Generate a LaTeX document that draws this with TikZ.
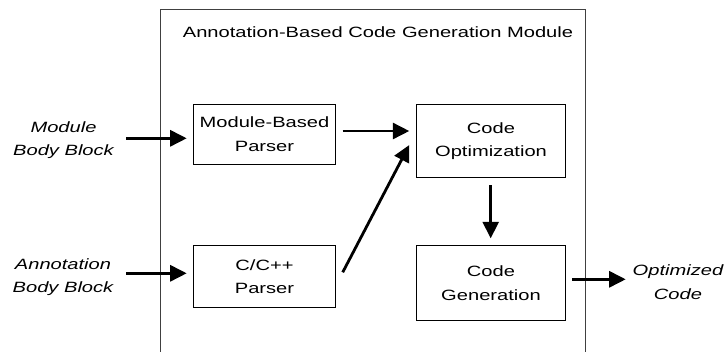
\documentclass[tikz,border=0pt]{standalone}
\usepackage{fontspec}
\setmainfont{Liberation Sans}[FakeStretch=1.35]
\usetikzlibrary{arrows.meta}
\tikzset{
  blockbox/.style={draw=black, line width=0.9pt, align=center, inner sep=0pt, font=\fontsize{14.9}{23.5}\selectfont},
  lbl/.style={align=center, inner sep=0pt, font=\fontsize{14.9}{23.5}\selectfont\itshape},
  arr/.style={line width=2.8pt, -{Triangle[length=16.5pt,width=16pt]}},
  framel/.style={draw=black!75, line width=1pt}
}
\begin{document}
\begin{tikzpicture}[x=1pt,y=-1pt]
\useasboundingbox (0,0) rectangle (725,351);
% frame (open at bottom)
\coordinate (fbl) at (160,352);
\coordinate (ftl) at (160,9.3);
\coordinate (ftr) at (585.5,9.3);
\coordinate (fbr) at (585.5,352);
\draw[framel] (fbl) -- (ftl) -- (ftr) -- (fbr);
\node[inner sep=0pt, font=\fontsize{14.9}{18}\selectfont] (title) at (378,32) {Annotation-Based Code Generation Module};
% blocks
\node[blockbox, minimum width=142.4pt, minimum height=60.7pt] (mbp) at (264.5,134.4) {Module-Based\\Parser};
\node[blockbox, minimum width=142.4pt, minimum height=61.6pt] (cpp) at (264.5,276.5) {C/C++\\Parser};
\node[blockbox, minimum width=149.7pt, minimum height=73.7pt] (co) at (491,141) {Code\\Optimization};
\node[blockbox, minimum width=149.7pt, minimum height=74.3pt] (cg) at (491,283) {Code\\Generation};
% labels
\node[lbl] (lab1) at (63.5,140) {Module\\Body Block};
\node[lbl] (lab2) at (63,277) {Annotation\\Body Block};
\node[lbl] (lab3) at (678,282) {Optimized\\Code};
% connector endpoints
\coordinate (i1s) at (126,138.3);
\coordinate (i1e) at (186.7,138.3);
\coordinate (i2s) at (126,273.3);
\coordinate (i2e) at (186.7,273.3);
\coordinate (m1s) at (342.7,131);
\coordinate (m1e) at (409.3,131);
\coordinate (d1s) at (342.7,272.3);
\coordinate (d1e) at (409.3,145);
\coordinate (v1s) at (490.7,185);
\coordinate (v1e) at (490.7,238.3);
\coordinate (o1s) at (572.3,279.3);
\coordinate (o1e) at (625.7,279.3);
\draw[arr] (i1s) -- (i1e);
\draw[arr] (i2s) -- (i2e);
\draw[arr] (m1s) -- (m1e);
\draw[arr] (d1s) -- (d1e);
\draw[arr] (v1s) -- (v1e);
\draw[arr] (o1s) -- (o1e);
\end{tikzpicture}
\end{document}
